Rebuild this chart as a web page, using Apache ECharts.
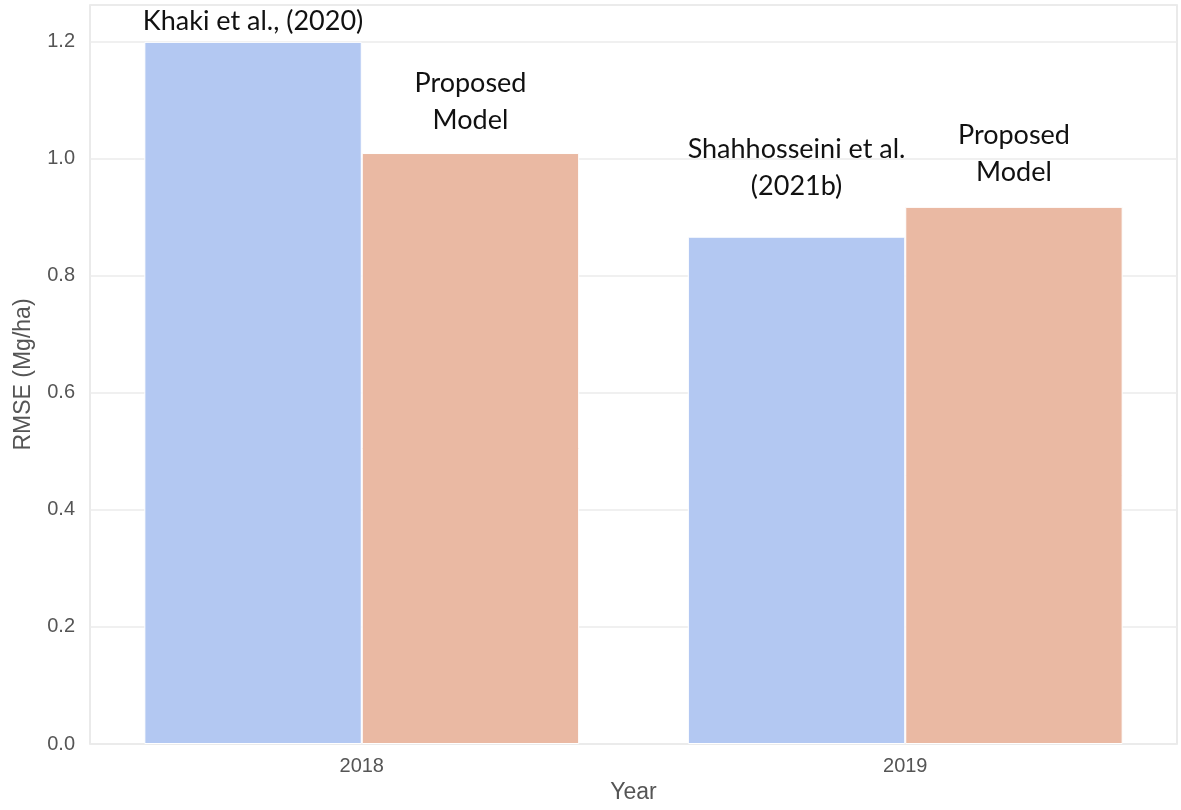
<!DOCTYPE html>
<html lang="en">
  <head>
    <meta charset="UTF-8" />
    <title>RMSE by year</title>
    <style>
      html, body { margin: 0; padding: 0; background-color: #fff; }
      #main { width: 1181px; height: 810px; }
    </style>
  </head>
  <body>
    <div id="main"></div>
    <script src="https://cdn.jsdelivr.net/npm/echarts@6/dist/echarts.min.js"></script>
    <script>
      // data
      var years = ['2018', '2019'];
      var baselineRmse = [1.20, 0.867];   // earlier studies
      var proposedRmse = [1.010, 0.918];  // proposed model
      var baselineNames = ['Khaki et al., (2020)', 'Shahhosseini et al.\n(2021b)'];
      var proposedNames = ['Proposed\nModel', 'Proposed\nModel'];

      // label gap above each bar (style only)
      var baselineGap = [2, 32];
      var proposedGap = [14, 16];

      var labelFont = {
        color: '#111',
        fontFamily: 'Lato',
        fontSize: 27,
        lineHeight: 37
      };

      function makeData(values, names, gaps) {
        return values.map(function (v, i) {
          return {
            value: v,
            label: Object.assign({
              show: true,
              position: 'top',
              distance: gaps[i],
              formatter: names[i]
            }, labelFont)
          };
        });
      }

      var myChart = echarts.init(document.getElementById('main'));
      var option = {
        animation: false,
        grid: {
          left: 90, right: 4, top: 5, bottom: 66,
          show: true,
          borderColor: '#e3e3e3',
          borderWidth: 1.5
        },
        xAxis: {
          type: 'category',
          data: years,
          name: 'Year',
          nameLocation: 'middle',
          nameGap: 37,
          nameTextStyle: { color: '#555', fontFamily: 'Liberation Sans', fontSize: 23 },
          axisLine: { show: false },
          axisTick: { show: false },
          axisLabel: { color: '#555', fontFamily: 'Liberation Sans', fontSize: 20, margin: 12 }
        },
        yAxis: {
          type: 'value',
          min: 0,
          max: 1.263,
          interval: 0.2,
          name: 'RMSE (Mg/ha)',
          nameLocation: 'middle',
          nameGap: 55,
          nameTextStyle: { color: '#555', fontFamily: 'Liberation Sans', fontSize: 23 },
          axisLine: { show: false },
          axisTick: { show: false },
          axisLabel: {
            color: '#555', fontFamily: 'Liberation Sans', fontSize: 20, margin: 15,
            showMaxLabel: false,
            formatter: function (v) { return v.toFixed(1); }
          },
          splitLine: { lineStyle: { color: '#ebebeb', width: 1.5 } }
        },
        series: [
          {
            type: 'bar',
            data: makeData(baselineRmse, baselineNames, baselineGap),
            barGap: '0%',
            barCategoryGap: '20%',
            itemStyle: { color: '#b3c8f2', borderColor: '#fff', borderWidth: 1 }
          },
          {
            type: 'bar',
            data: makeData(proposedRmse, proposedNames, proposedGap),
            itemStyle: { color: '#eab9a3', borderColor: '#fff', borderWidth: 1 }
          }
        ]
      };
      myChart.setOption(option);
    </script>
  </body>
</html>
